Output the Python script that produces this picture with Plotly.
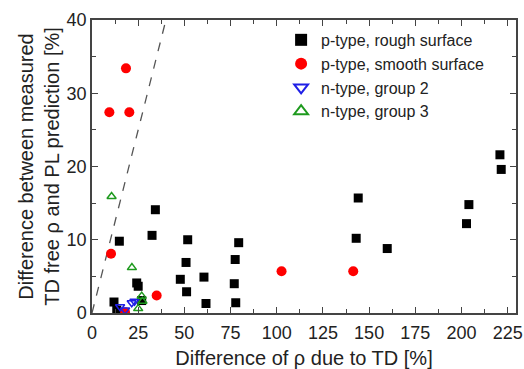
import plotly.graph_objects as go

# Data
rough_x = [14.8, 34.3, 32.5, 51.8, 50.9, 47.8, 60.6, 51.2, 61.7, 79.4, 77.5, 77.0, 77.8,
           24.2, 25.0, 11.9, 26.9, 13.4, 144.1, 143.0, 159.8, 204.0, 202.7, 220.8, 221.5]
rough_y = [9.8, 14.1, 10.6, 10.0, 6.9, 4.6, 4.9, 2.9, 1.3, 9.6, 7.3, 4.0, 1.4,
           4.1, 3.65, 1.5, 1.7, 0.4, 15.7, 10.2, 8.8, 14.8, 12.2, 21.6, 19.6]

smooth_x = [18.4, 9.4, 20.2, 10.3, 35.0, 17.9, 102.6, 141.4]
smooth_y = [33.4, 27.4, 27.4, 8.1, 2.4, 0.1, 5.7, 5.7]

group2_x = [15.2, 17.9, 21.5, 23.0]
group2_y = [0.85, 0.4, 1.4, 1.6]

group3_x = [10.6, 21.6, 26.9, 27.3, 25.0]
group3_y = [15.9, 6.2, 2.3, 1.6, 0.6]

guide_x = [0, 40]
guide_y = [0, 40]

x_ticks = [0, 25, 50, 75, 100, 125, 150, 175, 200, 225]
y_ticks = [0, 10, 20, 30, 40]

FONT = "Liberation Sans, Arial, sans-serif"
AX = "#444444"
TXT = "#222222"

fig = go.Figure()
fig.add_trace(go.Scatter(x=guide_x, y=guide_y, mode="lines",
                         line=dict(color="#555555", width=1.3, dash="dash"),
                         showlegend=False, hoverinfo="skip"))
fig.add_trace(go.Scatter(x=rough_x, y=rough_y, mode="markers", name="p-type, rough surface",
                         marker=dict(symbol="square", size=9, color="black")))
fig.add_trace(go.Scatter(x=smooth_x, y=smooth_y, mode="markers", name="p-type, smooth surface",
                         marker=dict(symbol="circle", size=10, color="#ff0000")))
fig.add_trace(go.Scatter(x=group2_x, y=group2_y, mode="markers", name="n-type, group 2",
                         marker=dict(symbol="triangle-down-open", size=8, color="#1f1fe6",
                                     line=dict(width=1.5))))
fig.add_trace(go.Scatter(x=group3_x, y=group3_y, mode="markers", name="n-type, group 3",
                         marker=dict(symbol="triangle-up-open", size=8, color="#1e9a1e",
                                     line=dict(width=1.5))))

axis_common = dict(showline=True, linecolor=AX, linewidth=1.5, mirror="allticks",
                   ticks="inside", ticklen=6, tickwidth=1.2, tickcolor=AX,
                   showgrid=False, zeroline=False, automargin=False,
                   tickfont=dict(family=FONT, size=18, color=TXT))

fig.update_xaxes(range=[0, 229.5], tickvals=x_ticks, ticklabelstandoff=3,
                 minor=dict(dtick=12.5, ticks="inside", ticklen=4, tickcolor=AX, tickwidth=1.2),
                 title=dict(text="Difference of ρ due to TD [%]", standoff=10,
                            font=dict(family=FONT, size=20, color=TXT)),
                 **axis_common)
fig.update_yaxes(range=[0, 40], tickvals=y_ticks,
                 minor=dict(dtick=5, ticks="inside", ticklen=4, tickcolor=AX, tickwidth=1.2),
                 title=dict(text="Difference between measured<br>TD free ρ and PL prediction [%]",
                            standoff=2, font=dict(family=FONT, size=20, color=TXT)),
                 **axis_common)

fig.update_layout(
    width=524, height=369,
    margin=dict(l=92, r=8, t=20, b=55.5),
    plot_bgcolor="white", paper_bgcolor="white",
    legend=dict(x=0.446, y=0.99, xanchor="left", yanchor="top",
                bgcolor="rgba(0,0,0,0)",
                font=dict(family=FONT, size=16, color=TXT),
                itemsizing="constant", tracegroupgap=0),
)

# remove the page's default body margin so the 524x369 figure fills the window exactly
fig.write_html("out.html", config={"displayModeBar": False},
               post_script="document.body.style.margin='0';document.body.style.overflow='hidden';")
